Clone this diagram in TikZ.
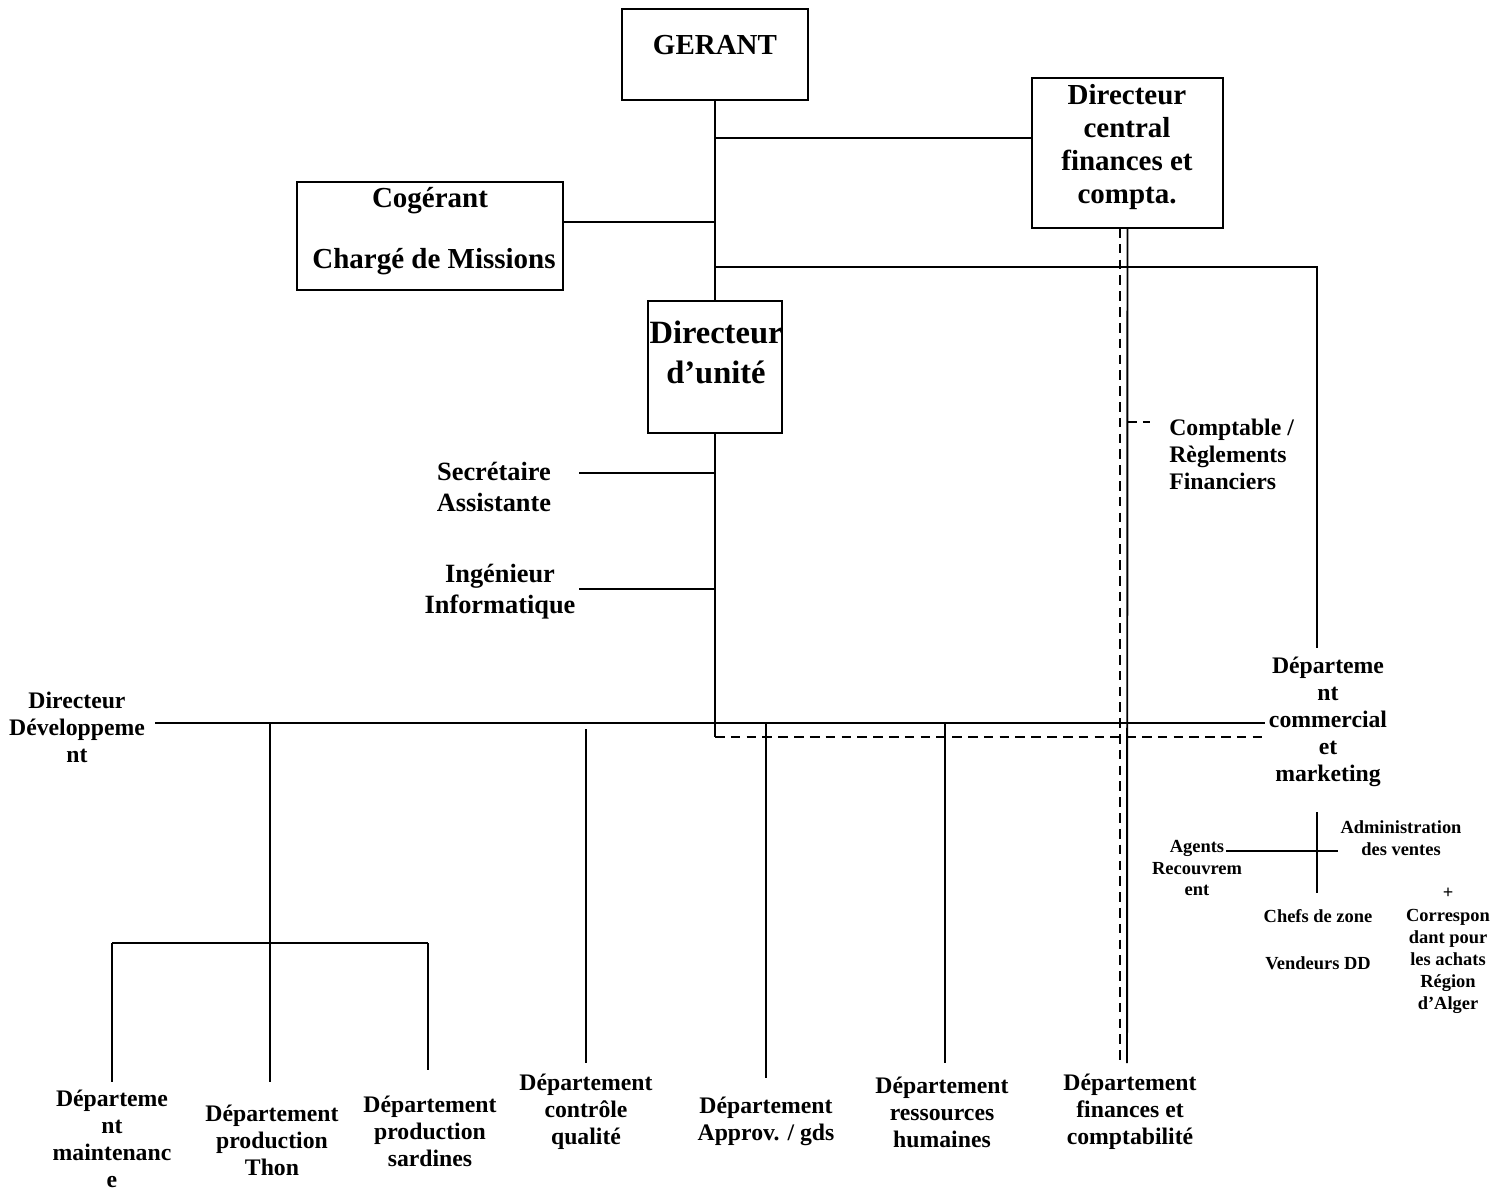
\documentclass[tikz,border=0pt]{standalone}
\usepackage{fontspec}
\setmainfont{Liberation Serif}
\usetikzlibrary{fit}

\tikzset{
  box/.style={draw, line width=1.1pt, inner sep=0pt},
  link/.style={line width=1.1pt},
  dlink/.style={line width=1.1pt, dash pattern=on 5.5pt off 3.5pt},
  bigtxt/.style={font=\bfseries\fontsize{16.5}{18.7}\selectfont, align=center, inner sep=0pt},
  unittxt/.style={font=\bfseries\fontsize{18.5}{22.7}\selectfont, align=center, inner sep=0pt},
  midtxt/.style={font=\bfseries\fontsize{15}{17.6}\selectfont, align=center, inner sep=0pt},
  depttxt/.style={font=\bfseries\fontsize{13.5}{15.4}\selectfont, align=center, inner sep=0pt},
  smalltxt/.style={font=\bfseries\fontsize{10.5}{12.5}\selectfont, align=center, inner sep=0pt}
}

\begin{document}
\begin{tikzpicture}[x=0.02cm, y=-0.02cm]

  \useasboundingbox (0,0) rectangle (1504,1191);
  \fill[white] (0,0) rectangle (1504,1191);

  % boxes
  \node[box, fit={(622,9) (808,100)}] (gerant) {};
  \node[box, fit={(1032,78) (1223,228)}] (dircentral) {};
  \node[box, fit={(297,182) (563,290)}] (cogerant) {};
  \node[box, fit={(648,301) (782,433)}] (dirunit) {};

  % box texts
  \node[bigtxt] (gerantlbl) at (715,45) {GERANT};
  \node[bigtxt] (dircentrallbl) at (1127,147) {Directeur\\central\\finances et\\compta.};
  \node[bigtxt] (cogerantlbl) at (430,201) {Cogérant};
  \node[bigtxt] (chargelbl) at (434,262) {Chargé de Missions};
  \node[unittxt] (dirunitlbl) at (716,352) {Directeur\\d’unité};

  % free labels
  \node[midtxt] (secr) at (494,487) {Secrétaire\\Assistante};
  \node[midtxt] (inge) at (500,592) {Ingénieur\\Informatique};
  \node[depttxt, align=left, anchor=west] (compt) at (1169,454) {Comptable /\\Règlements\\Financiers};
  \node[depttxt] (dirdev) at (77,727) {Directeur\\Développeme\\nt};
  \node[depttxt] (comm) at (1328,722) {Départeme\\nt\\commercial\\et\\marketing};

  \node[smalltxt] (admin) at (1401,838) {Administration\\des ventes};
  \node[smalltxt] (agents) at (1197,868) {Agents\\Recouvrem\\ent};
  \node[smalltxt] (plus) at (1448,893) {+};
  \node[smalltxt] (chefs) at (1318,916) {Chefs de zone};
  \node[smalltxt] (vendeurs) at (1318,963) {Vendeurs DD};
  \node[smalltxt] (corresp) at (1448,961) {Correspon\\dant pour\\les achats\\Région\\d’Alger};

  \node[depttxt] (maint) at (112,1139) {Départeme\\nt\\maintenanc\\e};
  \node[depttxt] (thon) at (272,1140) {Département\\production\\Thon};
  \node[depttxt] (sardines) at (430,1131) {Département\\production\\sardines};
  \node[depttxt] (qualite) at (586,1112) {Département\\contrôle\\qualité};
  \node[depttxt] (approv) at (766,1121) {Département\\Approv. / gds};
  \node[depttxt] (rh) at (942,1112) {Département\\ressources\\humaines};
  \node[depttxt] (finances) at (1130,1112) {Département\\finances et\\comptabilité};

  % spine and taps
  \coordinate (t1) at (715,138);
  \coordinate (t2) at (715,222);
  \coordinate (t3) at (715,267);
  \coordinate (t4) at (715,473);
  \coordinate (t5) at (715,589);
  \coordinate (t6) at (715,737);
  \draw[link] (gerant.south) -- (dirunit.north);
  \draw[link] (dirunit.south) -- (t6);
  \draw[link] (t1) -- (t1 -| dircentral.west);
  \draw[link] (t2) -- (t2 -| cogerant.east);
  \coordinate (commtop) at (1317,648);
  \draw[link] (t3) -| (commtop);
  \draw[link] (t4) -- (579,473);
  \draw[link] (t5) -- (579,589);

  % main bus
  \coordinate (busl) at (155,723);
  \coordinate (busr) at (1265,723);
  \draw[link] (busl) -- (busr);
  \draw[dlink] (t6) -- (1265,737);

  % finances line
  \draw[link] (dircentral.south) -- (1127,1063);
  \draw[dlink] (1120,228) -- (1120,1063);
  \draw[dlink] (1127,422) -- (1150,422);

  % departments
  \draw[link] (270,723) -- (270,1082);
  \draw[link] (112,943) -- (428,943);
  \draw[link] (112,943) -- (112,1082);
  \draw[link] (428,943) -- (428,1070);
  \draw[link] (586,729) -- (586,1063);
  \draw[link] (766,723) -- (766,1078);
  \draw[link] (945,723) -- (945,1063);

  % commercial
  \draw[link] (1317,812) -- (1317,893);
  \draw[link] (1226,851) -- (1338,851);

\end{tikzpicture}
\end{document}
